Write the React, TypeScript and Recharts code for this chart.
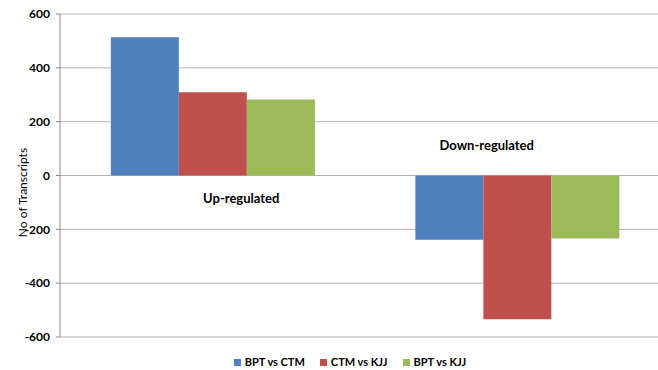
import React from 'react';
import { BarChart, Bar, XAxis, YAxis, CartesianGrid, ReferenceDot } from 'recharts';

const categories = ['Up-regulated', 'Down-regulated'];
const bptVsCtm = [514, -239];
const ctmVsKjj = [309, -534];
const bptVsKjj = [282, -234];
const yTicks = [-600, -400, -200, 0, 200, 400, 600];

const series = [
  { key: 'bptVsCtm', name: 'BPT vs CTM', color: '#4F81BD' },
  { key: 'ctmVsKjj', name: 'CTM vs KJJ', color: '#C0504D' },
  { key: 'bptVsKjj', name: 'BPT vs KJJ', color: '#9BBB59' },
];

const data = categories.map((name, i) => ({
  name,
  bptVsCtm: bptVsCtm[i],
  ctmVsKjj: ctmVsKjj[i],
  bptVsKjj: bptVsKjj[i],
}));

const FONT = 'Lato, Carlito, Calibri, sans-serif';

// group caption placed relative to the category centre on the zero line
const groupLabel = (text: string, dx: number, dy: number) => (props: any) => {
  const { viewBox } = props;
  return (
    <text
      x={viewBox.x + viewBox.width / 2 + dx}
      y={viewBox.y + viewBox.height / 2 + dy}
      textAnchor="middle"
      dominantBaseline="central"
      fontFamily={FONT}
      fontWeight={700}
      fontSize={13}
      fill="#000"
    >
      {text}
    </text>
  );
};

const yLabel = (p: any) => {
  const vb = p.viewBox;
  const cy = vb.y + vb.height / 2 + 17;
  return (
    <text
      x={22}
      y={cy}
      textAnchor="middle"
      dominantBaseline="central"
      transform={`rotate(-90, 22, ${cy})`}
      fontFamily={FONT}
      fontSize={12}
      fill="#000"
    >
      No of Transcripts
    </text>
  );
};

export default function App() {
  return (
    <div style={{ position: 'absolute', left: 0, top: 0, width: 658, height: 370, overflow: 'hidden', background: '#fff' }}>
      <BarChart
        width={672}
        height={370}
        data={data}
        margin={{ top: 14, right: 3, bottom: 33, left: 0 }}
        barCategoryGap="16.7%"
        barGap={0}
      >
        <CartesianGrid vertical={false} stroke="#b3b3b3" strokeWidth={1} />
        <XAxis dataKey="name" hide />
        <YAxis
          width={60}
          domain={[-600, 600]}
          ticks={yTicks}
          interval={0}
          axisLine={{ stroke: '#8c8c8c' }}
          tickLine={{ stroke: '#8c8c8c' }}
          tickSize={4}
          tickMargin={6}
          tick={{ fill: '#000', fontSize: 12, fontWeight: 700, fontFamily: FONT }}
          label={yLabel}
        />
        {series.map((s) => (
          <Bar key={s.key} dataKey={s.key} name={s.name} fill={s.color} isAnimationActive={false} />
        ))}
        <ReferenceDot x="Up-regulated" y={0} r={0} label={groupLabel('Up-regulated', 29, 22)} />
        <ReferenceDot x="Down-regulated" y={0} r={0} label={groupLabel('Down-regulated', -30, -31)} />
      </BarChart>
      {/* legend row under the plot */}
      <div
        style={{
          position: 'absolute',
          top: 355,
          left: 0,
          width: 700,
          display: 'flex',
          justifyContent: 'center',
          gap: 15,
          fontFamily: FONT,
          fontWeight: 700,
          fontSize: 11,
          lineHeight: '14px',
          color: '#000',
        }}
      >
        {series.map((s) => (
          <div key={s.key} style={{ display: 'flex', alignItems: 'center' }}>
            <span style={{ display: 'inline-block', width: 7, height: 7, background: s.color, marginRight: 4 }} />
            <span>{s.name}</span>
          </div>
        ))}
      </div>
    </div>
  );
}
